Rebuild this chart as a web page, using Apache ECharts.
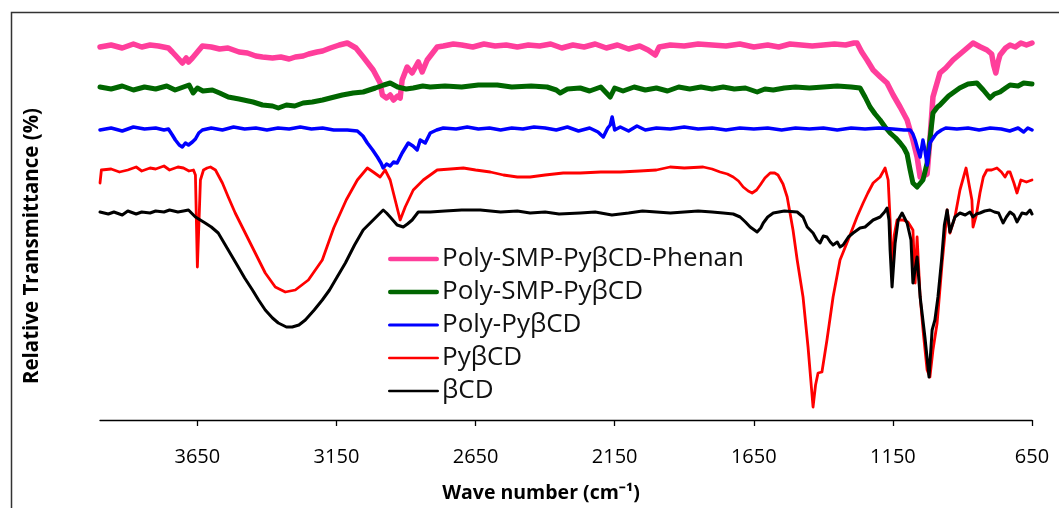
<!DOCTYPE html>
<html>
<head>
<meta charset="utf-8">
<script src="https://cdn.jsdelivr.net/npm/echarts@6/dist/echarts.min.js"></script>
<style>
html,body{margin:0;padding:0;background:#fff;}
#chart{width:1059px;height:508px;}
</style>
</head>
<body>
<div id="chart"></div>
<script>
// Wave number tick labels (cm-1)
const tickValues = [650, 1150, 1650, 2150, 2650, 3150, 3650];

const seriesNames = ['Poly-SMP-PyβCD-Phenan', 'Poly-SMP-PyβCD', 'Poly-PyβCD', 'PyβCD', 'βCD'];

// [wave number, relative transmittance (arbitrary offset units)]
const phenan = [
[4000,373],[3960,375],[3920,372],[3880,376],[3850,373],[3820,375],[3790,374],[3754,372],[3740,368],[3720,362],[3704,357],[3690,362],[3682,358],[3668,362],[3650,368],[3632,374],[3600,373],[3570,371],[3540,372],[3500,368],[3470,367],[3440,364],[3416,363],[3380,362],[3350,363],[3320,361],[3298,363],[3270,364],[3250,366],[3220,368],[3200,369],[3172,372],[3140,375],[3111,377],[3080,372],[3054,363],[3018,350],[2993,337],[2985,325],[2970,322],[2957,325],[2945,320],[2930,324],[2921,322],[2914,340],[2896,353],[2878,347],[2856,358],[2842,348],[2824,360],[2788,373],[2766,374],[2730,376],[2700,375],[2660,373],[2620,376],[2580,374],[2540,375],[2500,373],[2460,375],[2420,374],[2380,376],[2340,372],[2300,375],[2260,373],[2220,376],[2180,372],[2140,375],[2100,371],[2060,374],[2030,370],[2004,365],[1990,373],[1950,375],[1900,374],[1850,376],[1800,375],[1750,374],[1700,376],[1650,373],[1600,375],[1560,373],[1520,376],[1480,375],[1440,374],[1400,375],[1360,376],[1320,375],[1290,377],[1279,377],[1262,368],[1243,360],[1221,350],[1195,343],[1171,337],[1149,325],[1124,313],[1099,300],[1078,280],[1063,263],[1052,243],[1040,244],[1027,246],[1017,280],[1006,323],[981,347],[960,352],[934,360],[900,368],[862,377],[835,373],[812,370],[795,366],[788,355],[780,347],[772,358],[765,365],[745,372],[729,375],[710,373],[690,377],[670,375],[650,377]
];

const smp = [
[4000,333],[3960,331],[3920,334],[3880,330],[3840,333],[3800,331],[3760,334],[3730,330],[3700,333],[3680,335],[3665,327],[3650,332],[3630,329],[3596,330],[3570,327],[3539,323],[3500,321],[3450,318],[3416,315],[3380,314],[3359,312],[3330,315],[3300,314],[3270,317],[3237,318],[3200,320],[3172,322],[3129,325],[3090,327],[3054,328],[3010,332],[2980,335],[2957,337],[2930,333],[2900,331],[2874,332],[2840,334],[2813,333],[2760,334],[2700,333],[2640,335],[2572,335],[2520,333],[2450,334],[2393,333],[2360,330],[2346,327],[2320,331],[2274,332],[2240,329],[2200,333],[2166,323],[2150,332],[2120,329],[2080,333],[2040,330],[2000,332],[1960,329],[1920,333],[1880,331],[1840,333],[1800,331],[1760,333],[1720,331],[1680,332],[1638,328],[1610,331],[1580,330],[1540,332],[1500,333],[1450,332],[1400,333],[1350,334],[1300,333],[1268,332],[1250,323],[1232,313],[1214,306],[1196,300],[1178,293],[1160,287],[1140,282],[1124,277],[1110,272],[1099,266],[1088,250],[1078,237],[1063,233],[1042,240],[1027,257],[1015,285],[1006,307],[990,313],[981,315],[950,324],[910,332],[880,336],[848,337],[825,330],[801,322],[785,326],[765,328],[745,332],[729,335],[700,334],[680,337],[650,336]
];

const polyPy = [
[4000,290],[3960,292],[3920,289],[3880,293],[3840,291],[3800,292],[3770,290],[3754,291],[3740,285],[3729,280],[3715,275],[3704,273],[3693,277],[3682,275],[3668,278],[3657,281],[3645,287],[3632,290],[3600,292],[3560,290],[3520,293],[3480,291],[3440,292],[3400,290],[3360,292],[3320,291],[3280,293],[3240,291],[3200,292],[3160,290],[3111,290],[3075,289],[3055,284],[3039,277],[3020,270],[3003,263],[2990,257],[2982,252],[2970,256],[2957,254],[2945,258],[2932,257],[2914,267],[2892,277],[2875,274],[2860,270],[2849,280],[2831,277],[2813,287],[2790,290],[2766,292],[2720,291],[2680,293],[2640,291],[2600,292],[2560,290],[2520,292],[2480,291],[2440,293],[2400,292],[2360,290],[2320,293],[2280,289],[2240,292],[2210,288],[2191,283],[2175,292],[2166,295],[2159,303],[2150,290],[2130,293],[2100,289],[2070,294],[2040,290],[2000,292],[1950,291],[1900,293],[1850,291],[1800,292],[1750,290],[1700,292],[1650,291],[1600,292],[1550,290],[1500,292],[1450,291],[1400,292],[1350,290],[1300,292],[1250,291],[1200,292],[1150,291],[1110,290],[1088,290],[1078,286],[1070,280],[1060,270],[1052,263],[1042,280],[1035,270],[1027,255],[1017,277],[1000,284],[991,287],[975,290],[960,292],[920,291],[880,292],[840,290],[800,292],[760,291],[730,289],[700,292],[680,288],[665,292],[650,290]
];

const pyCD = [
[4000,237],[3995,250],[3960,251],[3930,248],[3900,250],[3870,253],[3850,249],[3820,252],[3800,251],[3770,254],[3750,250],[3720,253],[3700,252],[3680,249],[3664,250],[3657,245],[3650,153],[3644,200],[3639,240],[3628,250],[3615,252],[3603,253],[3585,250],[3560,237],[3539,223],[3514,207],[3478,187],[3442,167],[3406,147],[3370,133],[3334,128],[3298,130],[3251,140],[3201,160],[3160,192],[3115,220],[3075,240],[3039,252],[3018,248],[2993,243],[2975,250],[2957,240],[2939,220],[2921,200],[2903,213],[2874,230],[2838,240],[2788,250],[2740,251],[2694,252],[2650,250],[2597,248],[2550,245],[2500,243],[2454,243],[2400,245],[2335,247],[2274,247],[2200,248],[2130,248],[2060,249],[2000,250],[1951,253],[1900,252],[1832,253],[1800,251],[1771,248],[1745,246],[1724,243],[1705,239],[1688,233],[1670,229],[1656,227],[1640,230],[1627,235],[1610,242],[1591,247],[1575,247],[1563,245],[1545,236],[1530,223],[1509,190],[1494,160],[1473,123],[1455,73],[1437,13],[1428,35],[1419,47],[1405,48],[1387,80],[1365,123],[1340,160],[1311,180],[1279,203],[1257,217],[1240,227],[1221,237],[1196,243],[1178,252],[1167,240],[1160,200],[1153,150],[1145,185],[1135,200],[1114,200],[1096,198],[1078,190],[1070,137],[1063,183],[1052,123],[1040,85],[1027,50],[1017,43],[1006,70],[991,97],[973,157],[965,180],[955,210],[945,187],[927,203],[909,230],[887,252],[866,220],[862,193],[850,205],[837,227],[825,243],[812,250],[795,250],[776,252],[760,248],[747,243],[737,248],[729,248],[715,237],[704,227],[690,240],[670,238],[650,240]
];

const betaCD = [
[4000,208],[3970,206],[3950,208],[3920,205],[3900,209],[3870,206],[3850,208],[3820,207],[3800,209],[3770,208],[3750,210],[3720,208],[3700,209],[3682,210],[3657,203],[3622,197],[3600,193],[3575,187],[3539,170],[3503,153],[3480,142],[3452,130],[3430,120],[3406,110],[3380,102],[3359,97],[3330,93],[3309,93],[3285,95],[3262,100],[3230,110],[3201,120],[3175,130],[3154,140],[3118,157],[3085,175],[3054,190],[3018,200],[2982,210],[2970,207],[2957,203],[2932,195],[2910,193],[2895,196],[2878,200],[2856,208],[2813,208],[2760,209],[2700,210],[2633,210],[2560,208],[2500,209],[2454,207],[2400,208],[2350,206],[2274,207],[2220,208],[2160,205],[2100,207],[2050,209],[2000,208],[1950,207],[1900,208],[1850,209],[1800,208],[1760,207],[1724,206],[1699,203],[1680,198],[1663,193],[1638,188],[1625,192],[1616,197],[1600,203],[1580,207],[1540,209],[1494,208],[1473,203],[1458,193],[1437,187],[1423,180],[1412,177],[1400,184],[1387,183],[1375,178],[1365,175],[1350,178],[1340,173],[1329,175],[1310,183],[1293,187],[1268,192],[1250,193],[1221,200],[1196,203],[1180,208],[1171,212],[1164,200],[1160,170],[1153,133],[1142,177],[1131,200],[1117,207],[1099,197],[1085,180],[1078,137],[1063,163],[1052,123],[1035,83],[1020,43],[1009,90],[999,100],[988,123],[975,160],[965,195],[955,210],[945,188],[927,203],[909,207],[890,205],[873,208],[862,203],[850,206],[837,207],[820,209],[801,210],[785,208],[770,207],[754,197],[742,203],[729,208],[715,205],[704,198],[686,207],[670,206],[657,210],[650,206]
];

const dataSets = [phenan, smp, polyPy, pyCD, betaCD];
const colors = ['#FF3E9B', '#006600', '#0000FF', '#FF0000', '#000000'];
const widths = [5.5, 5, 3.5, 2.8, 3];
const legendThickness = [4.5, 4.5, 3.2, 2.6, 2.6];

const FONT = 'Open Sans';

function legendIcon(t) {
  const r = t / 2;
  return 'path://M' + r + ',0 L' + (51 - r) + ',0 A' + r + ',' + r + ' 0 0 1 ' + (51 - r) + ',' + t +
    ' L' + r + ',' + t + ' A' + r + ',' + r + ' 0 0 1 ' + r + ',0 Z';
}

const chart = echarts.init(document.getElementById('chart'), null, {renderer: 'canvas'});

chart.setOption({
  animation: false,
  backgroundColor: '#ffffff',
  grid: {left: 100, width: 932, top: 20, height: 400, containLabel: false},
  xAxis: {
    type: 'value', inverse: true, min: 650, max: 4000,
    axisLine: {show: true, lineStyle: {color: '#000', width: 1.3}},
    axisTick: {show: true, customValues: tickValues, length: 6, lineStyle: {color: '#000', width: 1.3}},
    axisLabel: {show: true, customValues: tickValues, margin: 27, color: '#000', fontFamily: FONT, fontSize: 20,
      formatter: v => String(v)},
    splitLine: {show: false}
  },
  yAxis: {type: 'value', min: 0, max: 400, show: false},
  legend: {
    orient: 'vertical', left: 383, top: 241,
    itemWidth: 51, itemHeight: 14, itemGap: 7, symbolKeepAspect: true,
    data: seriesNames.map((n, i) => ({name: n, icon: legendIcon(legendThickness[i]), itemStyle: {color: colors[i], borderWidth: 0}})),
    textStyle: {fontFamily: FONT, fontSize: 26, color: '#111', lineHeight: 24, padding: [0, 0, 0, -2]}
  },
  graphic: [
    {type: 'rect', left: 9, top: 10, shape: {width: 1100, height: 600}, style: {fill: 'none', stroke: '#333', lineWidth: 1.5}, silent: true},
    {type: 'text', x: 541, y: 493, style: {text: 'Wave number (cm⁻¹)', font: 'bold 19.5px "Open Sans"', fill: '#000', align: 'center', verticalAlign: 'middle'}},
    {type: 'text', x: 32, y: 246, rotation: Math.PI / 2, style: {text: 'Relative Transmittance (%)', font: 'bold 20.5px "Open Sans"', fill: '#000', align: 'center', verticalAlign: 'middle'}}
  ],
  series: dataSets.map((d, i) => ({
    name: seriesNames[i],
    type: 'line',
    data: d,
    showSymbol: false,
    symbol: 'none',
    smooth: false,
    lineStyle: {color: colors[i], width: widths[i], join: 'round', cap: 'round'},
    itemStyle: {color: colors[i]},
    z: 2 + i
  }))
});
</script>
</body>
</html>
